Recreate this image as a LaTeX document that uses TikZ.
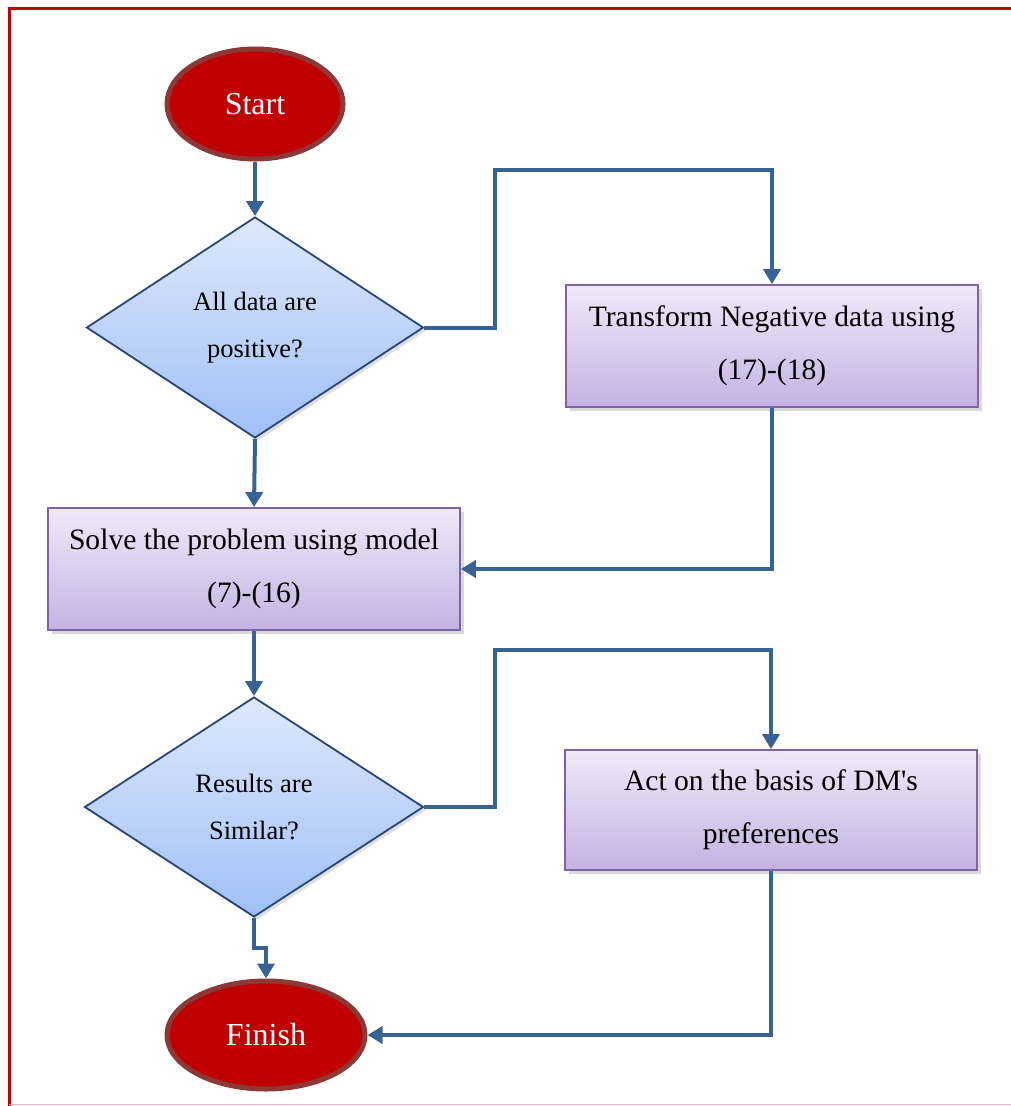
\documentclass[tikz,border=0pt]{standalone}
\usepackage{fontspec}
\setmainfont{Liberation Serif}[Ligatures=TeXOff]
\usetikzlibrary{shapes.geometric,arrows.meta,shadows,calc}
\definecolor{framered}{RGB}{192,0,0}
\definecolor{ovalfill}{RGB}{192,0,0}
\definecolor{ovaledge}{RGB}{140,56,54}
\definecolor{conncol}{RGB}{56,98,150}
\definecolor{diaedge}{RGB}{40,70,115}
\definecolor{diatop}{RGB}{222,232,252}
\definecolor{diabot}{RGB}{160,192,246}
\definecolor{boxedge}{RGB}{128,100,162}
\definecolor{boxtop}{RGB}{239,233,248}
\definecolor{boxbot}{RGB}{197,178,227}
\begin{document}
\begin{tikzpicture}[x=1pt,y=-1pt,
  oval/.style={ellipse, fill=ovalfill, draw=ovaledge, line width=5pt, inner sep=0pt,
    text=white, font=\fontsize{32}{36}\selectfont},
  decision/.style={diamond, draw=diaedge, line width=1.8pt, top color=diatop, bottom color=diabot,
    inner sep=0pt, align=center, font=\fontsize{26.5}{47}\selectfont,
    drop shadow={shadow xshift=3pt, shadow yshift=-3pt, opacity=0.25}},
  procbox/.style={rectangle, draw=boxedge, line width=1.8pt, top color=boxtop, bottom color=boxbot,
    inner sep=0pt, align=center, font=\fontsize{29.6}{53}\selectfont,
    drop shadow={shadow xshift=4pt, shadow yshift=-4pt, opacity=0.3}},
  conn/.style={draw=conncol, line width=4pt, -{Triangle[length=15pt,width=17pt]}}]
\useasboundingbox (0,0) rectangle (1011,1106);
% frame
\draw[framered, line width=3pt] (9,1106) -- (9,8) -- (1011,8);
\draw[red!30, line width=1.2pt] (9,1104.5) -- (1011,1104.5);
% nodes
\node[oval, minimum width=176pt, minimum height=110pt] (start) at (255,104) {Start};
\node[decision, minimum width=337pt, minimum height=221pt, aspect=1.525] (d1) at (255,327.5) {All data are\\positive?};
\node[procbox, minimum width=412pt, minimum height=122pt] (b1) at (772,346) {Transform Negative data using\\(17)-(18)};
\node[procbox, minimum width=412pt, minimum height=122pt] (b2) at (254,569) {Solve the problem using model\\(7)-(16)};
\node[decision, minimum width=339pt, minimum height=220pt, aspect=1.54] (d2) at (254,807) {Results are\\Similar?};
\node[procbox, minimum width=412pt, minimum height=120pt] (b3) at (771,810) {Act on the basis of DM's\\preferences};
\node[oval, minimum width=198pt, minimum height=108pt] (finish) at (266,1035) {Finish};
% connectors
\draw[conn] (start.south) -- (d1.north);
\draw[conn] (d1.east) -- (495,327.5) -- (495,170) -| (b1.north);
\draw[conn] (b1.south) |- (b2.east);
\draw[conn] (d1.south) -- (b2.north);
\draw[conn] (b2.south) -- (d2.north);
\draw[conn] (d2.east) -- (495,807) -- (495,650) -| (b3.north);
\draw[conn] (b3.south) |- (finish.east);
\draw[conn] (d2.south) -- (254,948) -- (266,948) -- (finish.north);
\end{tikzpicture}
\end{document}
